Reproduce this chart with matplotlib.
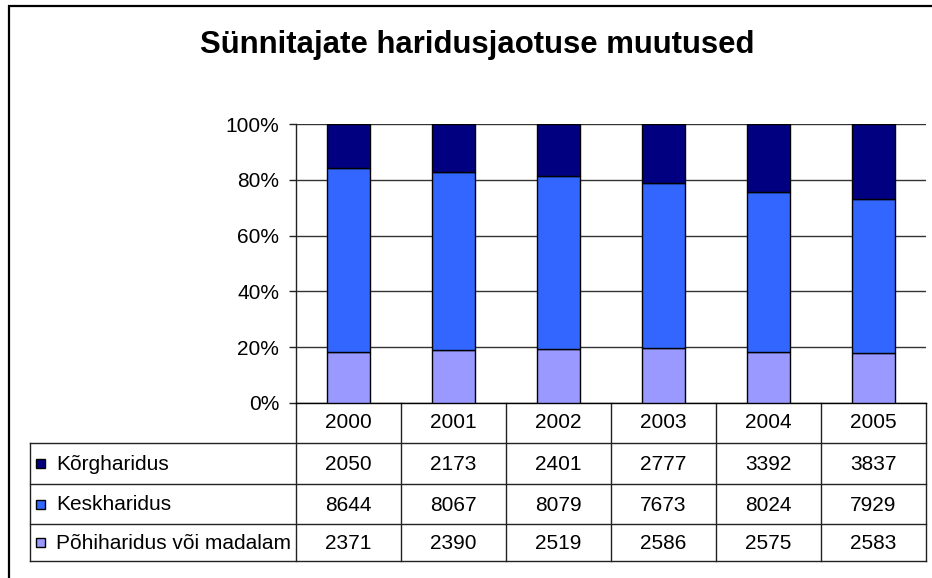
"""Sünnitajate haridusjaotus 2000-2005, 100% tulbad koos andmetabeliga"""

import numpy as np
import matplotlib
matplotlib.use('Agg')
import matplotlib.pyplot as plt
import matplotlib.transforms as mtransforms
from matplotlib.patches import Rectangle

plt.rcParams['font.family'] = ['Liberation Sans', 'DejaVu Sans']

#%% data
years = ['2000', '2001', '2002', '2003', '2004', '2005']
series_names = ['Kõrgharidus', 'Keskharidus', 'Põhiharidus või madalam']
korg = [2050, 2173, 2401, 2777, 3392, 3837]
kesk = [8644, 8067, 8079, 7673, 8024, 7929]
pohi = [2371, 2390, 2519, 2586, 2575, 2583]
colors = ['#000080', '#3366FF', '#9999FF']

#%% shares
total = np.array(korg) + np.array(kesk) + np.array(pohi)
p_pohi = np.array(pohi) / total * 100
p_kesk = np.array(kesk) / total * 100
p_korg = np.array(korg) / total * 100

W, H = 932, 578
FS = 15
fig = plt.figure(figsize=(W / 100, H / 100), dpi=100)
ax = fig.add_axes([296 / W, 1 - 403 / H, 630 / W, 279 / H])

x_pos = np.arange(len(years))
bw = 0.41
ax.bar(x_pos, p_pohi, bw, color=colors[2], edgecolor='black', lw=1, zorder=3)
ax.bar(x_pos, p_kesk, bw, bottom=p_pohi, color=colors[1], edgecolor='black', lw=1, zorder=3)
ax.bar(x_pos, p_korg, bw, bottom=p_pohi + p_kesk, color=colors[0], edgecolor='black', lw=1, zorder=3)

ax.set_xlim(-0.5, len(years) - 0.5)
ax.set_ylim(0, 100)
ax.set_yticks([0, 20, 40, 60, 80, 100])
ax.set_yticklabels(['0%', '20%', '40%', '60%', '80%', '100%'], fontsize=FS)
ax.set_xticks([])
ax.tick_params(axis='y', length=5, width=1, direction='out', pad=7, color='#222222')
ax.grid(axis='y', color='#333333', lw=1, zorder=0)
for s in ['top', 'right']:
    ax.spines[s].set_visible(False)
ax.spines['left'].set_linewidth(1)
ax.spines['bottom'].set_linewidth(1)
ax.spines['left'].set_color('#222222')

#%% data table under the axes
tr = mtransforms.blended_transform_factory(ax.transData, ax.transAxes)
ph = 279.0
y_rows = [0, -40 / ph, -81 / ph, -121 / ph, -158 / ph]
x_left = (30 - 296) / 105.0 - 0.5
x_right = len(years) - 0.5
lkw = dict(color='#222222', lw=1, transform=tr, clip_on=False)

# horizontal lines
for y in y_rows[1:]:
    ax.plot([x_left, x_right], [y, y], **lkw)
# vertical lines
for xv in np.arange(-0.5, len(years), 1.0):
    ax.plot([xv, xv], [y_rows[0], y_rows[-1]], **lkw)
ax.plot([x_left, x_left], [y_rows[1], y_rows[-1]], **lkw)

# year row
for i, yr in enumerate(years):
    ax.text(i, (y_rows[0] + y_rows[1]) / 2, yr, ha='center', va='center',
            fontsize=FS, transform=tr, clip_on=False)

# value rows
rows = [korg, kesk, pohi]
for r, (name, vals) in enumerate(zip(series_names, rows)):
    yc = (y_rows[r + 1] + y_rows[r + 2]) / 2
    for i, v in enumerate(vals):
        ax.text(i, yc - 0.004, str(v), ha='center', va='center',
                fontsize=FS, transform=tr, clip_on=False)
    # legend key
    yc_fig = fig.transFigure.inverted().transform(tr.transform((0, yc)))[1]
    fig.patches.append(Rectangle((35.5 / W, yc_fig - 4.5 / H), 9 / W, 9 / H,
                                 facecolor=colors[r], edgecolor='black', lw=1,
                                 transform=fig.transFigure))
    fig.text(56 / W, yc_fig - 0.001, name, ha='left', va='center', fontsize=FS)

#%% title and outer frame
fig.text(477 / W, 1 - 53 / H, 'Sünnitajate haridusjaotuse muutused', ha='center',
         va='baseline', fontsize=22.4, fontweight='bold')
fig.patches.append(Rectangle((9 / W, -0.1), 1.2, 1 - 6 / H + 0.1, fill=False,
                             edgecolor='black', lw=1.6, transform=fig.transFigure))

fig.savefig('out.png', dpi=100)
